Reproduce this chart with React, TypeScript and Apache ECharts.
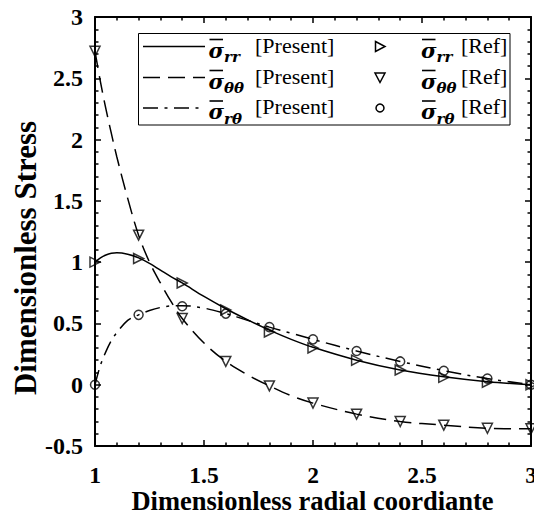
import React, { useEffect, useRef } from "react";
import * as echarts from "echarts";

// ---- Data ----
const presentX = [1.0, 1.025, 1.05, 1.075, 1.1, 1.15, 1.2, 1.25, 1.3, 1.35, 1.4, 1.5, 1.6, 1.7, 1.8, 1.9, 2.0, 2.2, 2.4, 2.6, 2.8, 3.0];
const presentRR = [1.0, 1.035, 1.058, 1.072, 1.077, 1.065, 1.035, 0.99, 0.935, 0.88, 0.83, 0.72, 0.62, 0.53, 0.445, 0.37, 0.305, 0.2, 0.12, 0.065, 0.025, 0.0];
const presentTT = [2.72, 2.47, 2.25, 2.05, 1.86, 1.52, 1.22, 1.0, 0.83, 0.675, 0.54, 0.34, 0.19, 0.08, -0.01, -0.09, -0.15, -0.24, -0.3, -0.33, -0.355, -0.36];
const presentRT = [0.0, 0.16, 0.27, 0.36, 0.425, 0.525, 0.57, 0.605, 0.63, 0.643, 0.645, 0.625, 0.58, 0.525, 0.47, 0.42, 0.37, 0.275, 0.19, 0.115, 0.05, 0.0];

const refX = [1.0, 1.2, 1.4, 1.6, 1.8, 2.0, 2.2, 2.4, 2.6, 2.8, 3.0];
const refRR = [1.0, 1.03, 0.83, 0.61, 0.43, 0.3, 0.2, 0.12, 0.06, 0.02, 0.0];
const refTT = [2.72, 1.22, 0.54, 0.19, -0.01, -0.15, -0.24, -0.3, -0.33, -0.355, -0.36];
const refRT = [0.0, 0.57, 0.64, 0.58, 0.47, 0.37, 0.275, 0.19, 0.114, 0.05, 0.0];

const xTickValues = [1, 1.5, 2, 2.5, 3];
const xTickLabels = ["1", "1.5", "2", "2.5", "3"];
const yTickValues = [-0.5, 0, 0.5, 1, 1.5, 2, 2.5, 3];
const yTickLabels = ["-0.5", "0", "0.5", "1", "1.5", "2", "2.5", "3"];

const seriesNames = ["\u03c3rr [Present]", "\u03c3\u03b8\u03b8 [Present]", "\u03c3r\u03b8 [Present]", "\u03c3rr [Ref]", "\u03c3\u03b8\u03b8 [Ref]", "\u03c3r\u03b8 [Ref]"];
const subscripts = ["rr", "\u03b8\u03b8", "r\u03b8"];

const SERIF = "'Liberation Serif', 'Times New Roman', serif";
const MATH = "'DejaVu Serif', 'Liberation Serif', serif";
const DASH = [17, 8];
const DASHDOT = [15, 6.5, 3, 6.5];

function pair(xs: number[], ys: number[]) {
  return xs.map((x, i) => [x, ys[i]]);
}

function fmt(values: number[], labels: string[]) {
  return (v: number) => {
    const i = values.findIndex((t) => Math.abs(t - v) < 1e-6);
    return i >= 0 ? labels[i] : "";
  };
}

function legendGraphics() {
  const els: any[] = [];
  els.push({
    type: "rect",
    shape: { x: 138.5, y: 33.5, width: 371.5, height: 91.5 },
    style: { fill: "#fff", stroke: "#000", lineWidth: 1 },
    z: 100,
  });
  const rowLine = [46.5, 77.5, 108];
  const rowText = [45, 76, 106.5];
  const dashes: any[] = [null, DASH, DASHDOT];
  for (let i = 0; i < 3; i++) {
    const ly = rowLine[i];
    const ty = rowText[i];
    els.push({
      type: "line",
      shape: { x1: 143, y1: ly, x2: 205, y2: ly },
      style: { stroke: "#000", lineWidth: 1.5, lineDash: dashes[i] || undefined },
      z: 101,
    });
    const cols = [
      { sx: 208.5, bx1: 209.5, bx2: 223, subx: 224, tx: 255, label: "[Present]" },
      { sx: 421, bx1: 422, bx2: 435.5, subx: 436.5, tx: 461, label: "[Ref]" },
    ];
    for (const c of cols) {
      els.push({
        type: "line",
        shape: { x1: c.bx1, y1: ty - 5.5, x2: c.bx2, y2: ty - 5.5 },
        style: { stroke: "#000", lineWidth: 1.6 },
        z: 101,
      });
      els.push({
        type: "text",
        x: c.sx,
        y: ty + 5,
        style: {
          text: "\u03c3",
          font: `italic bold 21px ${MATH}`,
          fill: "#000",
          align: "left",
          verticalAlign: "middle",
          textAlign: "left",
          textVerticalAlign: "middle",
        },
        z: 101,
      });
      els.push({
        type: "text",
        x: c.subx,
        y: ty + 12,
        style: {
          text: subscripts[i],
          font: `italic bold 15px ${MATH}`,
          fill: "#000",
          align: "left",
          verticalAlign: "middle",
          textAlign: "left",
          textVerticalAlign: "middle",
        },
        z: 101,
      });
      els.push({
        type: "text",
        x: c.tx,
        y: ty,
        style: {
          text: c.label,
          font: `22px ${SERIF}`,
          fill: "#000",
          align: "left",
          verticalAlign: "middle",
          textAlign: "left",
          textVerticalAlign: "middle",
        },
        z: 101,
      });
    }
  }
  const mx = 380;
  els.push({
    type: "polygon",
    shape: { points: [[mx - 4.5, rowLine[0] - 5], [mx + 5, rowLine[0]], [mx - 4.5, rowLine[0] + 5]] },
    style: { fill: "none", stroke: "#000", lineWidth: 1.5 },
    z: 101,
  });
  els.push({
    type: "polygon",
    shape: { points: [[mx - 5, rowLine[1] - 4.5], [mx + 5, rowLine[1] - 4.5], [mx, rowLine[1] + 5]] },
    style: { fill: "none", stroke: "#000", lineWidth: 1.5 },
    z: 101,
  });
  els.push({
    type: "circle",
    shape: { cx: mx, cy: rowLine[2], r: 4 },
    style: { fill: "none", stroke: "#000", lineWidth: 1.5 },
    z: 101,
  });
  els.push({
    type: "text",
    x: 312.5,
    y: 500.5,
    style: {
      text: "Dimensionless radial coordiante",
      font: `bold 26.5px ${SERIF}`,
      lineHeight: 20,
      fill: "#000",
      align: "center",
      verticalAlign: "middle",
      textAlign: "center",
      textVerticalAlign: "middle",
    },
  });
  els.push({
    type: "text",
    x: 25,
    y: 258,
    rotation: Math.PI / 2,
    style: {
      text: "Dimensionless Stress",
      font: `bold 31px ${SERIF}`,
      fill: "#000",
      align: "center",
      verticalAlign: "middle",
      textAlign: "center",
      textVerticalAlign: "middle",
    },
  });
  return els;
}

export default function App() {
  const ref = useRef<HTMLDivElement>(null);
  useEffect(() => {
    if (!ref.current) return;
    const chart = echarts.init(ref.current, undefined, { renderer: "svg" });
    const axisCommon = {
      axisLine: { show: true, onZero: false, lineStyle: { color: "#000", width: 2 } },
      axisTick: { show: true, inside: true, length: 6, lineStyle: { color: "#000", width: 1.5 } },
      minorTick: { show: true, splitNumber: 5, length: 3.5, lineStyle: { color: "#000", width: 1.5 } },
      splitLine: { show: false },
      minorSplitLine: { show: false },
    };
    const lineSeries = (name: string, ys: number[], dash: any) => ({
      name,
      type: "line",
      data: pair(presentX, ys),
      smooth: 0.35,
      symbol: "none",
      lineStyle: { color: "#000", width: 1.5, type: dash },
      z: 2,
      silent: true,
    });
    const markerSeries = (name: string, ys: number[], symbol: string, rotate: number, size: number) => ({
      name,
      type: "scatter",
      data: pair(refX, ys),
      symbol,
      symbolRotate: rotate,
      symbolSize: size,
      itemStyle: { color: "rgba(0,0,0,0)", borderColor: "#000", borderWidth: 1.5 },
      z: 3,
      silent: true,
    });
    chart.setOption({
      animation: false,
      backgroundColor: "#fff",
      grid: { left: 95, right: 3, top: 17, bottom: 71, containLabel: false, outerBoundsMode: "none" },
      xAxis: [
        {
          type: "value",
          min: 1,
          max: 3,
          interval: 0.5,
          position: "bottom",
          ...axisCommon,
          axisLabel: {
            show: true,
            margin: 20,
            lineHeight: 17,
            color: "#000",
            fontFamily: SERIF,
            fontWeight: "bold",
            fontSize: 23.5,
            showMinLabel: true,
            showMaxLabel: true,
            hideOverlap: false,
            formatter: fmt(xTickValues, xTickLabels),
          },
        },
        {
          type: "value",
          min: 1,
          max: 3,
          interval: 0.5,
          position: "top",
          ...axisCommon,
          axisLabel: { show: false },
        },
      ],
      yAxis: [
        {
          type: "value",
          min: -0.5,
          max: 3,
          interval: 0.5,
          position: "left",
          ...axisCommon,
          axisLabel: {
            show: true,
            margin: 12,
            color: "#000",
            fontFamily: SERIF,
            fontWeight: "bold",
            fontSize: 24,
            showMinLabel: true,
            showMaxLabel: true,
            formatter: fmt(yTickValues, yTickLabels),
          },
        },
        {
          type: "value",
          min: -0.5,
          max: 3,
          interval: 0.5,
          position: "right",
          ...axisCommon,
          axisLabel: { show: false },
        },
      ],
      series: [
        lineSeries(seriesNames[0], presentRR, "solid"),
        lineSeries(seriesNames[1], presentTT, DASH),
        lineSeries(seriesNames[2], presentRT, DASHDOT),
        markerSeries(seriesNames[3], refRR, "triangle", -90, 10),
        markerSeries(seriesNames[4], refTT, "triangle", 180, 10),
        markerSeries(seriesNames[5], refRT, "circle", 0, 9),
      ],
      graphic: { elements: legendGraphics() },
    });
    return () => chart.dispose();
  }, []);
  return <div ref={ref} style={{ position: "fixed", left: 0, top: 0, width: 534, height: 517 }} />;
}
